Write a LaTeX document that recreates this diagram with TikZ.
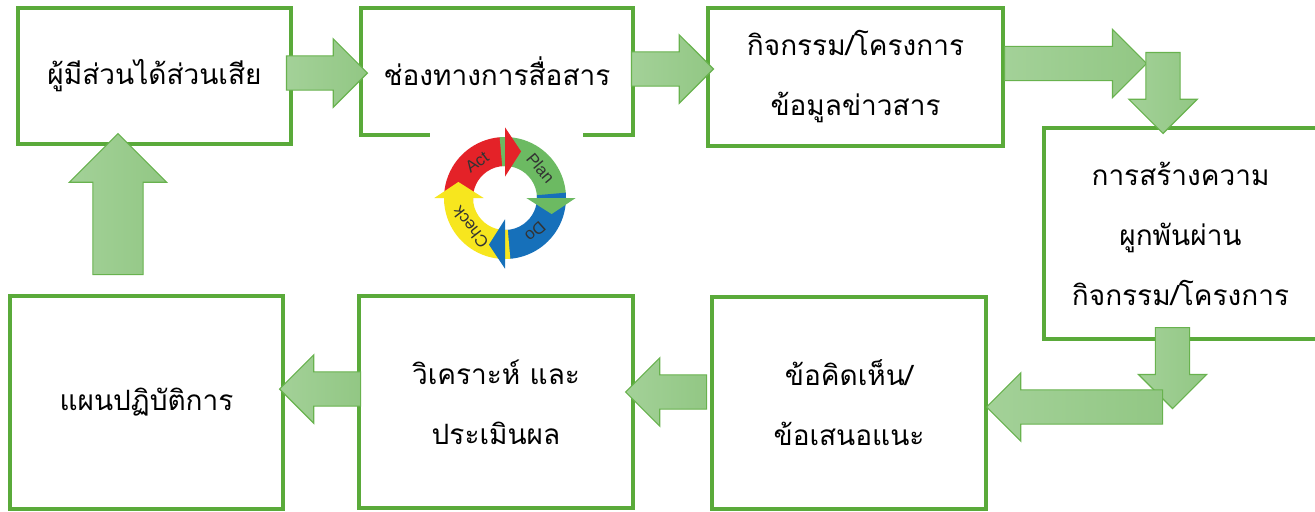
\documentclass[tikz,border=0pt]{standalone}
\usepackage{fontspec}
\newfontfamily\thaifont[Script=Thai]{Loma}
\setsansfont{Liberation Sans}
\usepackage{tikz}
\usetikzlibrary{calc}
\usetikzlibrary{shapes.arrows}
\pgfdeclarelayer{edgelayer}
\pgfdeclarelayer{nodelayer}
\pgfsetlayers{nodelayer,edgelayer,main}
\definecolor{boxgreen}{RGB}{90,170,58}
\definecolor{arrowline}{RGB}{104,178,78}
\definecolor{arrowlight}{RGB}{163,209,152}
\definecolor{arrowdark}{RGB}{146,199,132}
\definecolor{actred}{RGB}{228,34,40}
\definecolor{plangreen}{RGB}{108,186,98}
\definecolor{doblue}{RGB}{22,112,186}
\definecolor{checkyellow}{RGB}{247,230,30}
\tikzstyle{stage}=[rectangle,draw=boxgreen,line width=2.4pt,fill=white,align=center,inner sep=0pt,font=\thaifont\fontsize{21}{45}\selectfont]
\tikzstyle{flow}=[single arrow,draw=arrowline,line width=0.9pt,left color=arrowlight,right color=arrowdark,inner xsep=0pt,inner ysep=12.4pt,outer sep=0pt,minimum width=0pt,single arrow head extend=12.75pt]
\tikzstyle{bigflow}=[flow,inner ysep=18.4pt,single arrow head extend=17.6pt]
\tikzstyle{pdcatext}=[inner sep=0pt,text=black!80,font=\sffamily\fontsize{12.5}{13}\selectfont]

\begin{document}
\begin{tikzpicture}[x=0.75pt,y=-0.75pt]
	\useasboundingbox (0,0) rectangle (1315,511);
	\begin{pgfonlayer}{nodelayer}
		\node [style=stage, minimum width=204.75pt, minimum height=102pt] (0) at (154.5, 76) {ผู้มีส่วนได้ส่วนเสีย};
		\node [style=stage, minimum width=204pt, minimum height=95.25pt] (1) at (497, 71.5) {ช่องทางการสื่อสาร};
		\node [style=stage, minimum width=221.25pt, minimum height=103.5pt] (2) at (855.5, 77) {กิจกรรม/โครงการ\\ข้อมูลข่าวสาร};
		\node [style=stage, minimum width=204.75pt, minimum height=158.25pt] (3) at (1180.5, 233.5) {การสร้างความ\\ผูกพันผ่าน\\กิจกรรม/โครงการ};
		\node [style=stage, minimum width=205.5pt, minimum height=159pt] (4) at (849, 403) {ข้อคิดเห็น/\\ข้อเสนอแนะ};
		\node [style=stage, minimum width=205.5pt, minimum height=159pt] (5) at (496, 402) {วิเคราะห์ และ\\ประเมินผล};
		\node [style=stage, minimum width=204.75pt, minimum height=159.75pt] (6) at (146.5, 402.5) {แผนปฏิบัติการ};
	\end{pgfonlayer}
	\begin{pgfonlayer}{edgelayer}
		\node [style=flow, minimum height=60.75pt, anchor=tip] (7) at ($(1.west)+(8,1.5)$) {};
		\node [style=flow, minimum height=61.5pt, anchor=tip] (8) at ($(2.west)+(7,-8)$) {};
		\node [style=flow, minimum height=106.5pt, anchor=tail] (9) at ($(2.east)+(0,-13.5)$) {};
		\node [style=flow, minimum height=60.75pt, rotate=-90, anchor=tip] (10) at ($(3.north)+(-17.5,7)$) {};
		\node [style=flow, minimum height=60.75pt, rotate=-90, anchor=tail] (11) at ($(3.south)+(-8,-13)$) {};
		\node [style=flow, minimum height=132pt, rotate=180, anchor=tip] (12) at ($(4.east)+(-1,4)$) {};
		\node [style=flow, minimum height=60.75pt, rotate=180, anchor=tip] (13) at ($(5.east)+(-9,-10)$) {};
		\node [style=flow, minimum height=60.75pt, rotate=180, anchor=tip] (14) at ($(6.east)+(-5,-13.5)$) {};
		\node [style=bigflow, minimum height=105.75pt, rotate=90, anchor=tip] (15) at ($(0.south)+(-36.5,-12)$) {};
	\end{pgfonlayer}
	% PDCA wheel
	\fill [white] (430, 128) rectangle (583, 270);
	\begin{scope}[shift={(505, 198)}]
		\foreach \s/\e/\c in {185/90/actred, 95/0/plangreen, 5/-90/doblue, -85/-180/checkyellow}
			\fill [\c] (\s:24pt) arc [start angle=\s, end angle=\e, radius=24pt] -- (\e:45.75pt) arc [start angle=\e, end angle=\s, radius=45.75pt] -- cycle;
		\foreach \e/\c in {90/actred, 0/plangreen, -90/doblue, -180/checkyellow}
			\fill [\c] (\e:16pt) -- ({\e-19}:37pt) -- (\e:53pt) -- cycle;
		\node [style=pdcatext, rotate=36] (16) at (128:34pt) {Act};
		\node [style=pdcatext, rotate=-50] (17) at (40:35pt) {Plan};
		\node [style=pdcatext, rotate=-138] (18) at (-48:34pt) {Do};
		\node [style=pdcatext, rotate=128] (19) at (-140:34pt) {Check};
	\end{scope}
\end{tikzpicture}
\end{document}
